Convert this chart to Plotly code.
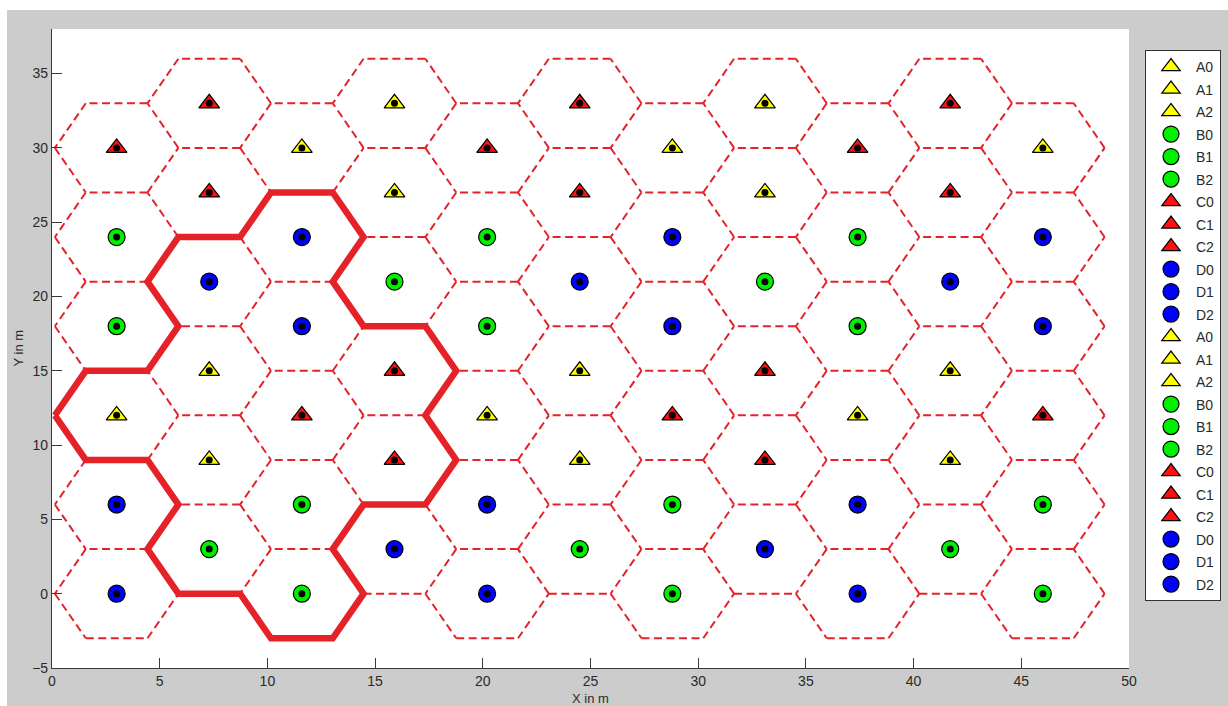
import plotly.graph_objects as go

# ---- cell layout -------------------------------------------------------
# x position of every column of hexagonal cells (m)
COL_X = [3.0, 7.3, 11.6, 15.9, 20.2, 24.5, 28.8, 33.1, 37.4, 41.7, 46.0]
# cell-centre heights for even columns (0, 2, ..., 10) and odd columns (1, 3, ..., 9)
EVEN_ROWS_Y = [0, 6, 12, 18, 24, 30]
ODD_ROWS_Y = [3, 9, 15, 21, 27, 33]
# cell class per row, read left to right across the even / odd columns
EVEN_COL_CLASSES = ["DBDBDB", "DBDBDB", "ACACAC", "BDBDBD", "BDBDBD", "CACACA"]
ODD_COL_CLASSES = ["BDBDB", "ACACA", "ACACA", "DBDBD", "CACAC", "CACAC"]
HEX_HALF_HEIGHT = 3.0

# reference cluster (column index, y) in the order of the legend names
CELL_NAMES = ["A0", "A1", "A2", "B0", "B1", "B2", "C0", "C1", "C2", "D0", "D1", "D2"]
CLUSTER_CELLS = [(0, 12), (1, 9), (1, 15),
                 (1, 3), (2, 0), (2, 6),
                 (2, 12), (3, 9), (3, 15),
                 (1, 21), (2, 18), (2, 24)]
# translations (columns, metres) that repeat the cluster over the plane
CLUSTER_SHIFT_A = (4, 0)
CLUSTER_SHIFT_B = (2, 18)

# ---- styles ------------------------------------------------------------
LINE_RED = "#e42228"
CLASS_STYLE = {
    "A": ("triangle-up", "#ffff00", 18),
    "B": ("circle", "#00f000", 17),
    "C": ("triangle-up", "#ff1010", 18),
    "D": ("circle", "#0000ff", 17),
}
FONT = "Liberation Sans, Arial, sans-serif"
TEXT_COL = "#2a2a2a"

# ---- geometry helpers --------------------------------------------------
col_step = COL_X[1] - COL_X[0]
half_w = 2.0 * col_step / 3.0      # centre -> side vertex
half_top = col_step / 3.0          # centre -> end of top edge


def hex_vertices(cx, cy):
    h = HEX_HALF_HEIGHT
    return [(cx + half_w, cy), (cx + half_top, cy + h), (cx - half_top, cy + h),
            (cx - half_w, cy), (cx - half_top, cy - h), (cx + half_top, cy - h)]


def key(p):
    return (round(p[0], 4), round(p[1], 4))


def hex_edges(col, y):
    v = hex_vertices(COL_X[col], y)
    return [(v[i], v[(i + 1) % 6]) for i in range(6)]


# every cell: (column index, y, class letter)
cells = []
for r, y in enumerate(EVEN_ROWS_Y):
    for j, ch in enumerate(EVEN_COL_CLASSES[r]):
        cells.append((2 * j, y, ch))
for r, y in enumerate(ODD_ROWS_Y):
    for j, ch in enumerate(ODD_COL_CLASSES[r]):
        cells.append((2 * j + 1, y, ch))


def cluster_slot(col, y):
    """Position of a cell inside its cluster and which cluster family it is in."""
    for m in range(-3, 4):
        for k in range(-5, 6):
            base = (col - CLUSTER_SHIFT_A[0] * k - CLUSTER_SHIFT_B[0] * m,
                    y - CLUSTER_SHIFT_A[1] * k - CLUSTER_SHIFT_B[1] * m)
            if base in CLUSTER_CELLS:
                return CLUSTER_CELLS.index(base), m % 2
    return None, 0


fig = go.Figure()

# ---- dashed cell borders (each shared edge drawn once) -----------------
seen = set()
ex, ey = [], []
for col, y, _ in cells:
    for p, q in hex_edges(col, y):
        k = tuple(sorted([key(p), key(q)]))
        if k in seen:
            continue
        seen.add(k)
        ex += [p[0], q[0], None]
        ey += [p[1], q[1], None]
fig.add_trace(go.Scatter(x=ex, y=ey, mode="lines", showlegend=False, hoverinfo="skip",
                         line=dict(color=LINE_RED, width=2, dash="8px,4.5px")))

# ---- thick outline of the reference cluster ----------------------------
count, coords = {}, {}
for col, y in CLUSTER_CELLS:
    for p, q in hex_edges(col, y):
        k = tuple(sorted([key(p), key(q)]))
        count[k] = count.get(k, 0) + 1
        coords[key(p)], coords[key(q)] = p, q
adj = {}
for (a, b), n in count.items():
    if n == 1:
        adj.setdefault(a, []).append(b)
        adj.setdefault(b, []).append(a)
start = min(adj)
path, prev, cur = [start], None, start
while True:
    nxt = [v for v in adj[cur] if v != prev][0]
    prev, cur = cur, nxt
    path.append(cur)
    if cur == start:
        break
fig.add_trace(go.Scatter(x=[coords[p][0] for p in path], y=[coords[p][1] for p in path],
                         mode="lines", showlegend=False, hoverinfo="skip",
                         line=dict(color=LINE_RED, width=6.5)))

# ---- cell markers, one trace per legend entry --------------------------
groups = {}
for col, y, ch in cells:
    idx, fam = cluster_slot(col, y)
    if idx is None:
        idx = CELL_NAMES.index(ch + "0")
    groups.setdefault((fam, idx), []).append((COL_X[col], y))

for fam in (0, 1):
    for idx, name in enumerate(CELL_NAMES):
        pts = groups.get((fam, idx), [])
        sym, colr, size = CLASS_STYLE[name[0]]
        fig.add_trace(go.Scatter(
            x=[p[0] for p in pts], y=[p[1] for p in pts], mode="markers", name=name,
            legendgroup=f"{fam}{name}",
            marker=dict(symbol=sym, color=colr, size=size,
                        line=dict(color="black", width=1.2))))

# black dot at every cell centre
fig.add_trace(go.Scatter(x=[COL_X[c] for c, _, _ in cells], y=[y for _, y, _ in cells],
                         mode="markers", showlegend=False, hoverinfo="skip",
                         marker=dict(symbol="circle", color="black", size=7)))

# ---- axes & layout -----------------------------------------------------
L, R, T, B = 52, 99, 29, 38
W, H = 1228, 706
pw, ph = W - L - R, H - T - B


def px_x(px):
    return (px - L) / pw


def px_y(py):
    return (H - B - py) / ph


axis_common = dict(showgrid=False, zeroline=False, showline=True, linecolor="#3a3a3a",
                   linewidth=1.2, ticks="inside", ticklen=10, tickcolor="#3a3a3a",
                   tickwidth=1, mirror=False,
                   tickfont=dict(family=FONT, size=14, color=TEXT_COL))
fig.update_xaxes(range=[0, 50], tick0=0, dtick=5, **axis_common)
fig.update_yaxes(range=[-5, 38], tick0=-5, dtick=5, **axis_common)

fig.update_layout(
    width=W, height=H,
    paper_bgcolor="#cccccc", plot_bgcolor="white",
    margin=dict(l=L, r=R, t=T, b=B, autoexpand=False),
    legend=dict(x=px_x(1145), y=px_y(50), xanchor="left", yanchor="top",
                bgcolor="white", bordercolor="#333333", borderwidth=1,
                font=dict(family=FONT, size=14, color=TEXT_COL),
                itemwidth=40, tracegroupgap=1.3, traceorder="grouped"),
    annotations=[
        dict(text="X in m", xref="paper", yref="paper", x=0.5, y=px_y(689),
             xanchor="center", yanchor="top", showarrow=False,
             font=dict(family=FONT, size=13, color=TEXT_COL)),
        dict(text="Y in m", xref="paper", yref="paper", x=px_x(18), y=0.5,
             xanchor="center", yanchor="middle", textangle=-90, showarrow=False,
             font=dict(family=FONT, size=13, color=TEXT_COL)),
    ],
    shapes=[
        dict(type="rect", xref="paper", yref="paper", layer="below",
             x0=px_x(-10), x1=px_x(W + 10), y0=px_y(10), y1=px_y(-10),
             fillcolor="white", line=dict(width=0)),
        dict(type="rect", xref="paper", yref="paper", layer="below",
             x0=px_x(-10), x1=px_x(7), y0=px_y(H + 10), y1=px_y(-10),
             fillcolor="white", line=dict(width=0)),
    ],
)

fig.write_html("out.html")
